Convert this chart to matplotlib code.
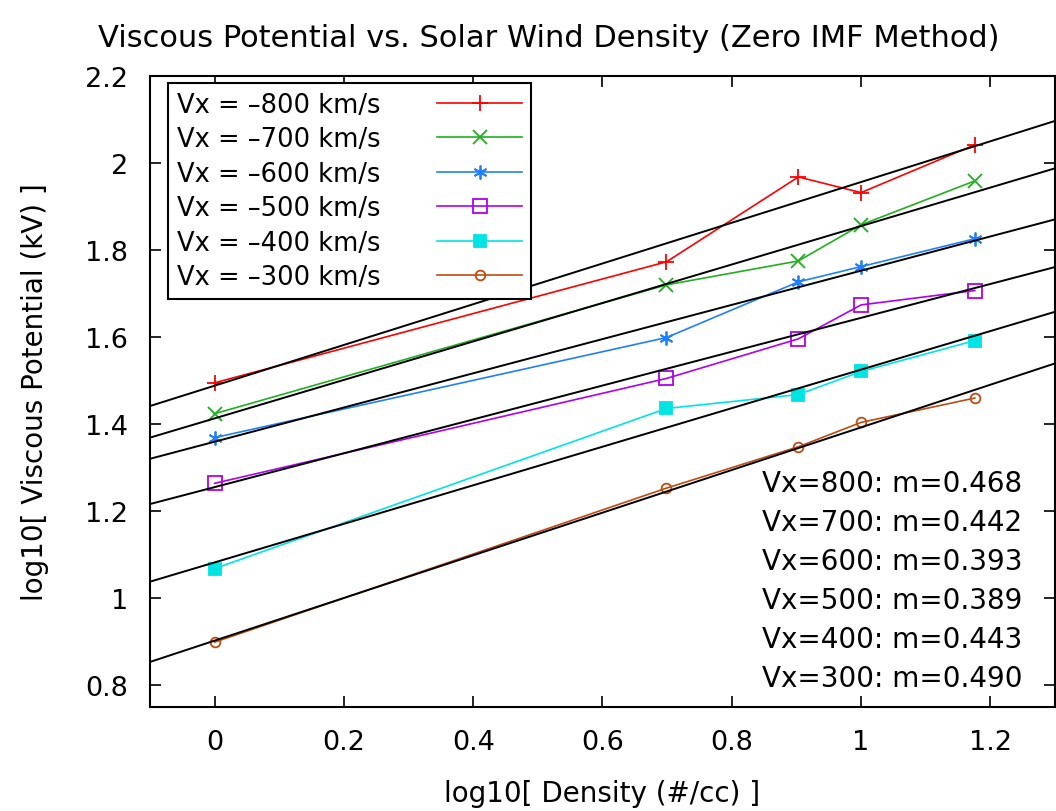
import numpy as np
import matplotlib
matplotlib.use("Agg")
import matplotlib.pyplot as plt

# log10 of solar wind density (1, 5, 8, 10, 15 #/cc)
log_density = [0.0, 0.699, 0.903, 1.0, 1.176]

speeds = [800, 700, 600, 500, 400, 300]

# log10 of viscous potential (kV) for each Vx
pot_800 = [1.495, 1.773, 1.968, 1.932, 2.042]
pot_700 = [1.424, 1.720, 1.775, 1.858, 1.959]
pot_600 = [1.369, 1.599, 1.727, 1.762, 1.826]
pot_500 = [1.264, 1.505, 1.596, 1.674, 1.707]
pot_400 = [1.068, 1.436, 1.468, 1.521, 1.592]
pot_300 = [0.899, 1.253, 1.348, 1.404, 1.460]

# fitted slopes
slopes = [0.468, 0.442, 0.393, 0.389, 0.443, 0.490]

series = [pot_800, pot_700, pot_600, pot_500, pot_400, pot_300]
colors = ["#ff0000", "#20b020", "#1e80ff", "#b000f0", "#00e4e4", "#c04a10"]
markers = ["+", "x", (6, 2, 0), "s", "s", "o"]
fills = ["full", "full", "full", "none", "full", "none"]
msizes = [12, 10, 10, 10, 9, 7]

plt.rcParams["font.family"] = "DejaVu Sans"

fig = plt.figure(figsize=(10.56, 8.12), dpi=100)
ax = fig.add_axes([150 / 1056, 1 - 708 / 812, 905 / 1056, 631 / 812])

x = np.array(log_density)
xfit = np.array([-0.1, 1.3])
for spd, y, m, c, mk, fs, ms in zip(speeds, series, slopes, colors, markers, fills, msizes):
    ax.plot(x, y, color=c, marker=mk, fillstyle=fs, markersize=ms, markeredgewidth=1.3,
            linewidth=1.2, label=f"Vx = \u2013{spd} km/s", zorder=3)
    # least-squares intercept for the given slope
    b = np.mean(y) - m * np.mean(x)
    ax.plot(xfit, b + m * xfit, color="black", linewidth=1.4, zorder=4)

ax.set_xlim(-0.1, 1.3)
ax.set_ylim(0.75, 2.2)
ax.set_xticks([0, 0.2, 0.4, 0.6, 0.8, 1.0, 1.2])
ax.set_xticklabels(["0", "0.2", "0.4", "0.6", "0.8", "1", "1.2"])
ax.set_yticks([0.8, 1.0, 1.2, 1.4, 1.6, 1.8, 2.0, 2.2])
ax.set_yticklabels(["0.8", "1", "1.2", "1.4", "1.6", "1.8", "2", "2.2"])
ax.tick_params(direction="in", length=8, width=1.2, top=True, right=True,
               labelsize=19.5, pad=16)
for sp in ax.spines.values():
    sp.set_linewidth(1.5)

ax.set_xlabel("log10[ Density (#/cc) ]", fontsize=20, labelpad=17)
ax.set_ylabel("log10[ Viscous Potential (kV) ]", fontsize=20, labelpad=26)
fig.text(0.52, 0.953, "Viscous Potential vs. Solar Wind Density (Zero IMF Method)",
         ha="center", va="center", fontsize=22)

leg = ax.legend(loc="upper left", bbox_to_anchor=(0.02, 0.989), borderaxespad=0,
                markerfirst=False, fontsize=18.5, handlelength=3.3, handletextpad=2.2,
                labelspacing=0.33, fancybox=False, framealpha=1, edgecolor="black",
                borderpad=0.35)
leg.get_frame().set_linewidth(1.5)

for i, (spd, m) in enumerate(zip(speeds, slopes)):
    ax.text(0.847, 1.264 - i * 0.0895, f"Vx={spd}: m={m:.3f}", fontsize=20,
            ha="left", va="center")

fig.savefig("out.png", dpi=100)
